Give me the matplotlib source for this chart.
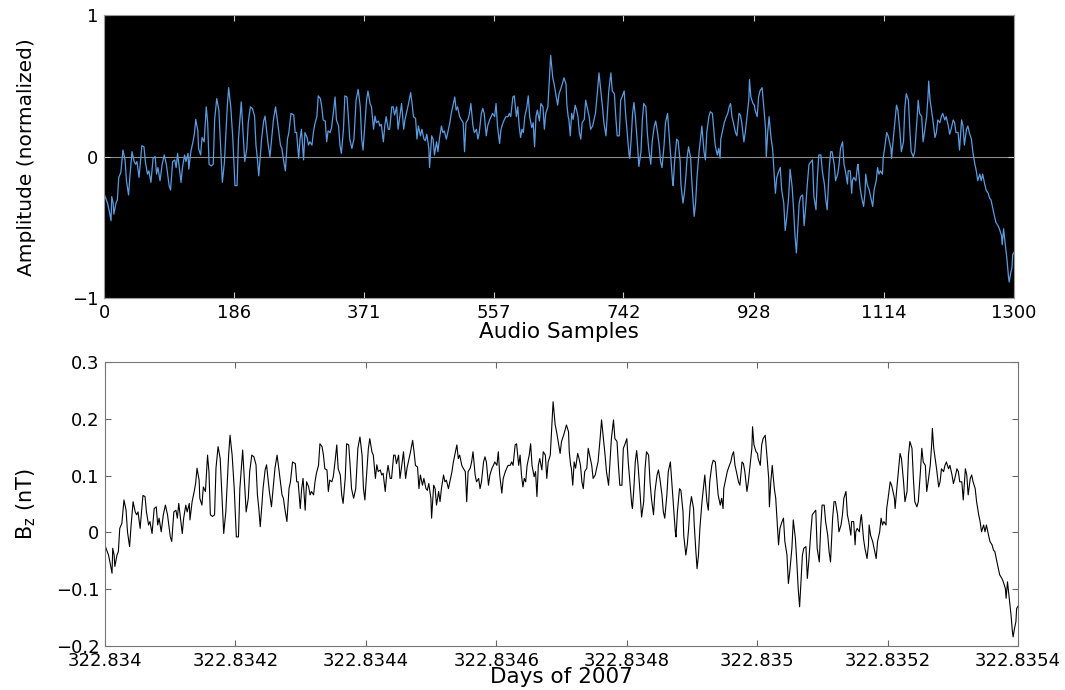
import numpy as np
import matplotlib
matplotlib.use("Agg")
import matplotlib.pyplot as plt

# turning points of the Bz trace (sample index, nT)
samples = [
    0, 5, 7, 10, 11, 13, 14, 17, 19, 21, 24, 27, 30, 32, 35, 37, 40, 43, 45, 47,
    50, 54, 57, 59, 62, 64, 67, 70, 73, 75, 77, 80, 83, 86, 89, 93, 95, 98, 101, 103,
    105, 108, 110, 112, 115, 117, 120, 121, 124, 127, 129, 131, 134, 135, 138, 140, 143, 146, 148, 150,
    153, 156, 158, 161, 164, 166, 169, 172, 176, 178, 181, 184, 187, 190, 192, 196, 198, 201, 204, 206,
    209, 212, 215, 217, 219, 221, 223, 225, 228, 230, 234, 237, 242, 245, 248, 252, 254, 256, 259, 262,
    264, 267, 271, 273, 275, 278, 280, 282, 285, 287, 290, 292, 294, 297, 299, 301, 304, 306, 309, 311,
    313, 316, 318, 320, 323, 325, 328, 330, 332, 335, 337, 339, 342, 344, 347, 349, 351, 354, 357, 360,
    363, 366, 368, 370, 373, 375, 377, 380, 382, 385, 387, 389, 392, 394, 396, 399, 401, 403, 406, 408,
    411, 413, 415, 418, 420, 422, 425, 428, 430, 433, 435, 438, 440, 442, 445, 447, 449, 452, 454, 457,
    459, 461, 464, 465, 468, 470, 472, 475, 477, 479, 482, 484, 486, 489, 491, 494, 496, 498, 501, 503,
    505, 508, 510, 513, 515, 517, 520, 522, 524, 527, 529, 532, 534, 536, 539, 541, 543, 546, 548, 551,
    553, 555, 558, 560, 562, 565, 567, 570, 572, 574, 577, 579, 581, 584, 586, 589, 591, 593, 595, 597,
    599, 601, 604, 606, 608, 611, 613, 615, 617, 619, 622, 624, 627, 629, 631, 634, 636, 638, 641, 643,
    646, 648, 650, 653, 655, 657, 660, 661, 663, 664, 666, 668, 670, 673, 675, 677, 679, 681, 683, 686,
    688, 691, 693, 695, 698, 700, 702, 705, 707, 710, 712, 714, 717, 719, 721, 724, 726, 729, 731, 733,
    736, 738, 740, 743, 745, 748, 750, 751, 753, 755, 757, 759, 762, 764, 767, 769, 771, 774, 776, 778,
    781, 783, 786, 788, 790, 793, 795, 797, 800, 802, 805, 807, 809, 812, 813, 815, 818, 820, 823, 824,
    827, 829, 831, 833, 835, 838, 839, 841, 843, 845, 847, 850, 852, 854, 857, 859, 861, 864, 866, 869,
    871, 873, 876, 878, 880, 881, 884, 886, 889, 891, 893, 895, 897, 899, 902, 904, 907, 909, 911, 914,
    916, 918, 921, 922, 924, 927, 929, 930, 933, 935, 937, 940, 942, 945, 946, 948, 950, 953, 955, 957,
    959, 961, 964, 966, 968, 971, 973, 975, 978, 980, 983, 985, 987, 989, 991, 993, 995, 998, 1000, 1002,
    1005, 1007, 1010, 1012, 1014, 1017, 1019, 1021, 1024, 1026, 1029, 1031, 1033, 1036, 1038, 1040, 1043, 1045, 1048, 1050,
    1052, 1055, 1057, 1059, 1062, 1063, 1066, 1068, 1069, 1071, 1074, 1076, 1077, 1080, 1082, 1085, 1087, 1088, 1090, 1093,
    1095, 1098, 1100, 1103, 1105, 1107, 1109, 1112, 1113, 1115, 1118, 1120, 1122, 1124, 1125, 1127, 1130, 1132, 1134, 1137,
    1139, 1142, 1144, 1146, 1149, 1151, 1153, 1156, 1158, 1161, 1163, 1165, 1168, 1170, 1172, 1175, 1177, 1178, 1180, 1182,
    1184, 1187, 1189, 1191, 1194, 1196, 1198, 1201, 1203, 1206, 1208, 1210, 1213, 1215, 1217, 1220, 1222, 1225, 1227, 1229,
    1232, 1234, 1236, 1239, 1241, 1244, 1246, 1248, 1251, 1253, 1255, 1258, 1260, 1263, 1265, 1267, 1270, 1272, 1274, 1277,
    1279, 1282, 1283, 1285, 1287, 1290, 1292, 1293, 1295, 1297, 1298, 1300,
]
bz = [
    -0.023, -0.040, -0.052, -0.072, -0.028, -0.040, -0.060, -0.040, -0.034, 0.007, 0.016, 0.057, 0.039, 0.001, -0.025, 0.010, 0.054, 0.036, 0.031, 0.036,
    0.007, 0.065, 0.063, 0.036, 0.013, 0.019, -0.002, 0.042, 0.045, 0.013, 0.025, 0.001, 0.031, 0.048, 0.031, -0.008, -0.016, 0.036, 0.039, 0.025,
    0.051, 0.019, -0.002, 0.025, 0.048, 0.036, 0.051, 0.022, 0.054, 0.072, 0.086, 0.113, 0.092, 0.060, 0.048, 0.080, 0.072, 0.136, 0.107, 0.031,
    0.028, 0.031, 0.113, 0.151, 0.130, 0.077, -0.002, 0.036, 0.136, 0.171, 0.136, 0.077, -0.008, -0.008, 0.077, 0.145, 0.101, 0.036, 0.060, 0.107,
    0.136, 0.133, 0.119, 0.066, 0.042, 0.010, 0.042, 0.077, 0.110, 0.119, 0.072, 0.045, 0.113, 0.136, 0.107, 0.066, 0.060, 0.042, 0.019, 0.077,
    0.089, 0.124, 0.121, 0.089, 0.089, 0.042, 0.077, 0.095, 0.039, 0.089, 0.080, 0.066, 0.072, 0.066, 0.089, 0.104, 0.118, 0.156, 0.151, 0.136,
    0.112, 0.110, 0.072, 0.092, 0.089, 0.098, 0.130, 0.154, 0.112, 0.101, 0.066, 0.051, 0.095, 0.156, 0.154, 0.118, 0.077, 0.060, 0.077, 0.148,
    0.168, 0.136, 0.077, 0.057, 0.113, 0.148, 0.165, 0.142, 0.136, 0.095, 0.119, 0.107, 0.110, 0.101, 0.104, 0.072, 0.101, 0.118, 0.095, 0.095,
    0.136, 0.136, 0.121, 0.136, 0.095, 0.113, 0.142, 0.095, 0.113, 0.130, 0.142, 0.162, 0.142, 0.118, 0.115, 0.077, 0.101, 0.083, 0.095, 0.077,
    0.074, 0.086, 0.060, 0.025, 0.083, 0.077, 0.048, 0.072, 0.054, 0.077, 0.101, 0.089, 0.092, 0.077, 0.089, 0.107, 0.124, 0.136, 0.154, 0.130,
    0.136, 0.118, 0.113, 0.107, 0.054, 0.107, 0.113, 0.124, 0.142, 0.101, 0.089, 0.095, 0.077, 0.089, 0.124, 0.133, 0.124, 0.083, 0.101, 0.113,
    0.118, 0.124, 0.118, 0.142, 0.101, 0.069, 0.095, 0.107, 0.113, 0.118, 0.118, 0.124, 0.118, 0.154, 0.156, 0.118, 0.136, 0.101, 0.080, 0.095,
    0.089, 0.118, 0.136, 0.156, 0.118, 0.098, 0.107, 0.063, 0.118, 0.130, 0.110, 0.142, 0.136, 0.095, 0.124, 0.136, 0.183, 0.230, 0.189, 0.177,
    0.154, 0.139, 0.160, 0.171, 0.180, 0.189, 0.177, 0.142, 0.118, 0.113, 0.083, 0.124, 0.113, 0.139, 0.130, 0.118, 0.089, 0.077, 0.107, 0.113,
    0.148, 0.130, 0.118, 0.095, 0.101, 0.113, 0.124, 0.166, 0.198, 0.160, 0.136, 0.107, 0.083, 0.124, 0.165, 0.198, 0.165, 0.160, 0.118, 0.083,
    0.083, 0.148, 0.154, 0.165, 0.124, 0.077, 0.048, 0.042, 0.077, 0.124, 0.144, 0.118, 0.066, 0.027, 0.054, 0.113, 0.142, 0.136, 0.089, 0.060,
    0.031, 0.072, 0.101, 0.110, 0.095, 0.066, 0.036, 0.025, 0.066, 0.107, 0.124, 0.089, 0.054, 0.001, -0.008, 0.036, 0.077, 0.074, 0.036, -0.005,
    -0.040, -0.022, 0.007, 0.045, 0.063, 0.042, 0.013, -0.028, -0.064, -0.040, 0.007, 0.054, 0.077, 0.101, 0.054, 0.039, 0.089, 0.118, 0.127, 0.124,
    0.095, 0.066, 0.048, 0.060, 0.042, 0.077, 0.095, 0.107, 0.118, 0.124, 0.136, 0.142, 0.118, 0.107, 0.089, 0.083, 0.124, 0.121, 0.107, 0.072,
    0.089, 0.113, 0.148, 0.186, 0.154, 0.142, 0.139, 0.130, 0.118, 0.154, 0.165, 0.171, 0.142, 0.095, 0.045, 0.089, 0.118, 0.077, 0.060, 0.019,
    -0.022, 0.007, 0.019, 0.025, -0.016, -0.040, -0.090, -0.069, -0.028, 0.022, -0.011, -0.052, -0.099, -0.131, -0.087, -0.040, -0.028, -0.025, -0.081, -0.052,
    0.001, 0.031, 0.036, 0.039, -0.028, -0.052, 0.007, 0.048, 0.048, 0.019, -0.005, -0.034, -0.052, 0.025, 0.054, 0.054, 0.031, 0.001, 0.013, 0.031,
    0.060, 0.072, 0.031, 0.019, -0.005, 0.019, 0.019, -0.022, 0.001, 0.007, 0.001, 0.025, 0.031, -0.011, -0.028, -0.046, -0.022, 0.013, -0.005, -0.016,
    -0.028, -0.046, -0.016, 0.001, 0.025, 0.013, 0.019, 0.013, 0.042, 0.060, 0.089, 0.083, 0.072, 0.060, 0.042, 0.072, 0.112, 0.139, 0.130, 0.089,
    0.054, 0.072, 0.136, 0.160, 0.148, 0.095, 0.054, 0.045, 0.054, 0.107, 0.148, 0.124, 0.118, 0.072, 0.089, 0.118, 0.154, 0.183, 0.148, 0.130,
    0.112, 0.080, 0.089, 0.112, 0.107, 0.118, 0.124, 0.112, 0.118, 0.101, 0.086, 0.095, 0.112, 0.107, 0.089, 0.089, 0.057, 0.112, 0.101, 0.066,
    0.095, 0.101, 0.089, 0.077, 0.054, 0.031, 0.019, 0.001, 0.013, 0.001, 0.013, -0.005, -0.016, -0.022, -0.031, -0.034, -0.052, -0.064, -0.075, -0.081,
    -0.087, -0.099, -0.116, -0.087, -0.110, -0.145, -0.175, -0.184, -0.169, -0.157, -0.134, -0.130,
]

# audio is the same trace, offset and normalized; first sample clips at -1
norm_offset = 0.045
norm_scale = 3.87
first_audio = -1.0

audio_ticks = [0, 186, 371, 557, 742, 928, 1114, 1300]
day_start = 322.834
day_span = 0.0014
day_ticks = [322.834, 322.8342, 322.8344, 322.8346, 322.8348, 322.835, 322.8352, 322.8354]
day_labels = ['322.834', '322.8342', '322.8344', '322.8346', '322.8348', '322.835', '322.8352', '322.8354']
bz_ticks = [-0.2, -0.1, 0, 0.1, 0.2, 0.3]
bz_labels = ['\u22120.2', '\u22120.1', '0', '0.1', '0.2', '0.3']

samples = np.array(samples, dtype=float)
bz = np.array(bz)
n_total = 1300
days = day_start + samples * day_span / n_total
audio_x = np.concatenate([[0.0], samples])
audio = np.concatenate([[first_audio], (bz - norm_offset) * norm_scale])

plt.rcParams['font.family'] = ['DejaVu Sans']
plt.rcParams['mathtext.fontset'] = 'dejavusans'

fig = plt.figure(figsize=(10.65, 6.9), dpi=100)

# top panel: audio
ax1 = fig.add_axes([0.0977, 0.568, 0.8545, 0.410])
ax1.set_facecolor('black')
ax1.axhline(0, color='#8a8a8a', lw=0.8, zorder=1)
ax1.plot(audio_x, audio, color='#5b9be0', lw=0.9, zorder=2)
ax1.set_xlim(0, n_total)
ax1.set_ylim(-1, 1)
ax1.set_xticks(audio_ticks)
ax1.set_yticks([-1, 0, 1])
ax1.set_yticklabels(['\u22121', '0', '1'])
ax1.tick_params(direction='in', top=True, right=True, length=4, color='#cccccc',
                labelsize=13, pad=4)
for sp in ax1.spines.values():
    sp.set_color('#9a9a9a')
ax1.set_ylabel('Amplitude (normalized)', fontsize=14.5, labelpad=26)
ax1.set_xlabel('Audio Samples', fontsize=15.5, labelpad=0)

# bottom panel: Bz
ax2 = fig.add_axes([0.0986, 0.0638, 0.8573, 0.4116])
ax2.plot(days, bz, color='black', lw=0.8)
ax2.set_xlim(day_start, day_start + day_span)
ax2.set_ylim(-0.2, 0.3)
ax2.set_xticks(day_ticks)
ax2.set_xticklabels(day_labels)
ax2.set_yticks(bz_ticks)
ax2.set_yticklabels(bz_labels)
ax2.tick_params(direction='in', top=True, right=True, length=4, color='#666666',
                labelsize=13, pad=4)
for sp in ax2.spines.values():
    sp.set_color('#777777')
ax2.set_ylabel(r'B$_\mathregular{z}$ (nT)', fontsize=15, labelpad=13)
ax2.set_xlabel('Days of 2007', fontsize=15.5, labelpad=-2)

fig.savefig('out.png', dpi=100)
